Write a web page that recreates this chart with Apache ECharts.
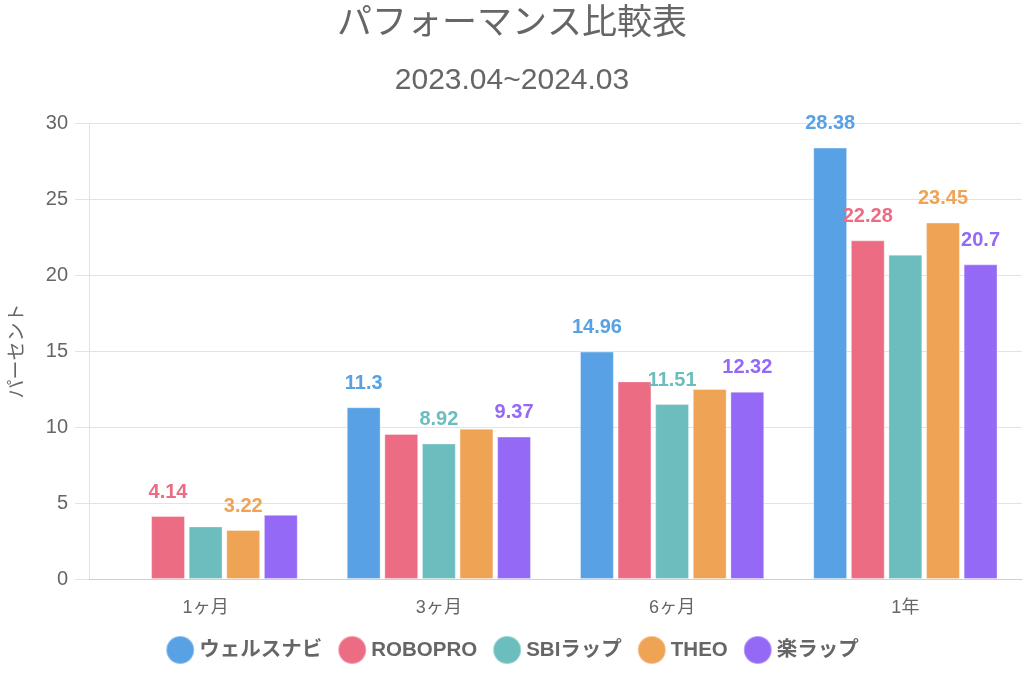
<!DOCTYPE html>
<html><head><meta charset="utf-8">
<script src="https://cdn.jsdelivr.net/npm/echarts@6/dist/echarts.min.js"></script>
<style>html,body{margin:0;padding:0;background:#fff}#c{width:1024px;height:683px}</style>
</head><body><div id="c"></div>
<script>
const titleText = 'パフォーマンス比較表';
const subtitleText = '2023.04~2024.03';
const yAxisName = 'パーセント';
const categories = ['1ヶ月', '3ヶ月', '6ヶ月', '1年'];
const seriesNames = ['ウェルスナビ', 'ROBOPRO', 'SBIラップ', 'THEO', '楽ラップ'];
const wealthnavi = [null, 11.3, 14.96, 28.38];
const robopro = [4.14, 9.54, 13.0, 22.28];
const sbiwrap = [3.46, 8.92, 11.51, 21.34];
const theo = [3.22, 9.89, 12.5, 23.45];
const rakuwrap = [4.22, 9.37, 12.32, 20.7];
const labelShown = [
  [false, true, true, true],
  [true, false, false, true],
  [false, true, true, false],
  [true, false, false, true],
  [false, true, true, true]
];
const colors = ['#57a1e4', '#ec6c84', '#6bbdbe', '#efa354', '#9469f5'];
const font = '"Liberation Sans", "Noto Sans CJK JP", sans-serif';

const allValues = [wealthnavi, robopro, sbiwrap, theo, rakuwrap];
const chart = echarts.init(document.getElementById('c'));
chart.setOption({
  animation: false,
  textStyle: { fontFamily: font },
  title: [
    { text: titleText, left: 'center', top: 2, textStyle: { fontFamily: font, fontSize: 35, fontWeight: 'normal', color: '#666' } },
    { text: subtitleText, left: 'center', top: 61, textStyle: { fontFamily: font, fontSize: 30, fontWeight: 'normal', color: '#666' } }
  ],
  legend: {
    bottom: 13, left: 'center', icon: 'circle', itemWidth: 28, itemHeight: 28, itemGap: 15,
    textStyle: { fontFamily: font, fontSize: 20.5, fontWeight: 'bold', color: '#666' },
    data: seriesNames
  },
  grid: { left: 85, right: 2, top: 123, bottom: 104 },
  xAxis: {
    type: 'category', data: categories,
    axisLine: { lineStyle: { color: '#cfcfcf' } },
    axisTick: { show: false },
    axisLabel: { fontFamily: font, fontSize: 18, color: '#666', margin: 20 },
    splitLine: { show: false }
  },
  yAxis: {
    type: 'value', min: 0, max: 30, interval: 5,
    name: yAxisName, nameLocation: 'middle', nameRotate: 90, nameGap: 62,
    nameTextStyle: { fontFamily: font, fontSize: 19, color: '#666' },
    axisLine: { show: true, lineStyle: { color: '#e3e3e3' } },
    axisTick: { show: true, length: 14, lineStyle: { color: '#e3e3e3' } },
    axisLabel: { fontFamily: font, fontSize: 20, color: '#666', margin: 21 },
    splitLine: { lineStyle: { color: '#e3e3e3' } }
  },
  series: seriesNames.map((name, i) => ({
    name: name, type: 'bar',
    barGap: '11%', barCategoryGap: '21%',
    itemStyle: { color: colors[i], borderColor: 'rgba(255,255,255,0.35)', borderWidth: 1 },
    label: {
      show: true, position: 'top', distance: 14,
      fontFamily: font, fontSize: 20, fontWeight: 'bold', color: colors[i],
      formatter: p => labelShown[i][p.dataIndex] ? String(p.value) : ''
    },
    data: allValues[i]
  }))
});
</script></body></html>
